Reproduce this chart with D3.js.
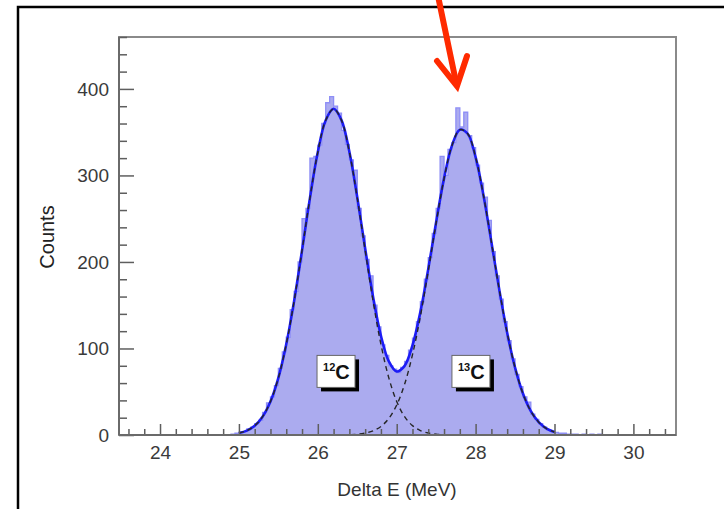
<!DOCTYPE html>
<html>
<head>
<meta charset="utf-8">
<script src="https://cdn.jsdelivr.net/npm/d3@7"></script>
<style>
  html, body { margin: 0; padding: 0; background: #fff; }
  svg { display: block; }
  text { font-family: "Liberation Sans", Arial, Helvetica, sans-serif; }
</style>
</head>
<body>
<svg id="chart" width="724" height="509"></svg>
<script>
// ---------- DATA ----------
const xTickLabels = [24, 25, 26, 27, 28, 29, 30];
const yTickLabels = [0, 100, 200, 300, 400];
const xTitle = "Delta E (MeV)";
const yTitle = "Counts";

// histogram: first bin lower edge and bin width (MeV), counts per bin
const binFirstEdge = 24.85;
const binWidth = 0.05;
const counts = [
  0, 1, 2, 3, 4, 7, 9, 13, 17, 26,
  37, 44, 57, 77, 96, 113, 145, 166, 200, 250,
  262, 320, 322, 335, 360, 384, 391, 380, 372, 352,
  336, 318, 306, 262, 230, 203, 184, 150, 125, 104,
  92, 80, 76, 72, 78, 85, 98, 112, 131, 154,
  180, 205, 233, 262, 322, 300, 330, 338, 378, 356,
  373, 346, 332, 312, 291, 275, 248, 212, 184, 157,
  131, 109, 88, 70, 56, 44, 38, 24, 18, 13,
  9, 6, 4, 3, 2, 2, 1, 1, 1, 0,
  1, 0, 1, 0, 1
];

// fit curves sampled on a common energy grid
const fitX = [
  25.0, 25.1, 25.2, 25.3, 25.4, 25.5, 25.6, 25.7, 25.8, 25.9,
  26.0, 26.1, 26.2, 26.3, 26.4, 26.5, 26.6, 26.7, 26.8, 26.9,
  27.0, 27.1, 27.2, 27.3, 27.4, 27.5, 27.6, 27.7, 27.8, 27.9,
  28.0, 28.1, 28.2, 28.3, 28.4, 28.5, 28.6, 28.7, 28.8, 28.9, 29.0
];
const fitTotal = [
  2.3, 5.1, 10.8, 21.2, 38.7, 66.0, 104.8, 155.0, 213.4, 273.8,
  327.0, 363.8, 377.0, 363.9, 327.4, 274.7, 215.6, 159.8, 114.7, 85.1,
  73.4, 79.9, 103.6, 142.3, 192.0, 246.1, 296.6, 334.5, 352.9, 348.2,
  321.1, 276.8, 223.1, 168.0, 118.3, 77.9, 47.9, 27.5, 14.8, 7.4, 3.5
];
// 12C component (null = not drawn)
const fit12C = [
  2.3, 5.1, 10.8, 21.2, 38.7, 66.0, 104.8, 155.0, 213.4, 273.8,
  327.0, 363.8, 377.0, 363.8, 327.0, 273.8, 213.4, 155.0, 104.8, 66.0,
  38.7, 21.2, 10.8, 5.1, 2.3, 0.9, 0.4, 0.1, null, null,
  null, null, null, null, null, null, null, null, null, null, null
];
// 13C component
const fit13C = [
  null, null, null, null, null, null, null, null, null, null,
  null, null, null, 0.1, 0.4, 0.9, 2.2, 4.8, 9.9, 19.1,
  34.7, 58.7, 92.8, 137.2, 189.7, 245.2, 296.2, 334.4, 352.9, 348.2,
  321.1, 276.8, 223.1, 168.0, 118.3, 77.9, 47.9, 27.5, 14.8, 7.4, 3.5
];

// peak labels: isotope mass number, element, label box anchor (energy, counts)
const peakLabels = [
  { mass: "12", el: "C", e: 25.99, c: 92 },
  { mass: "13", el: "C", e: 27.70, c: 92 }
];

// ---------- CHART ----------
const svg = d3.select("#chart");
const L = 119, R = 676, T = 37, B = 435;

const x = d3.scaleLinear().domain([23.48, 30.54]).range([L, R]);
const y = d3.scaleLinear().domain([0, 460]).range([B, T]);

// histogram
const bins = counts.map((c, i) => ({ x0: binFirstEdge + i * binWidth, c }));
const stepPts = bins.map(b => [b.x0, b.c]);
stepPts.push([binFirstEdge + counts.length * binWidth, counts[counts.length - 1]]);

svg.append("path")
  .datum(stepPts)
  .attr("d", d3.area().x(d => x(d[0])).y0(y(0)).y1(d => y(d[1])).curve(d3.curveStepAfter))
  .attr("fill", "#ababef");
svg.append("path")
  .datum(stepPts)
  .attr("d", d3.line().x(d => x(d[0])).y(d => y(d[1])).curve(d3.curveStepAfter))
  .attr("fill", "none")
  .attr("stroke", "#8f8ff6")
  .attr("stroke-width", 1.3);

// total fit (blue)
const lineGen = vals => d3.line()
  .defined((d, i) => vals[i] !== null)
  .x((d, i) => x(fitX[i]))
  .y((d, i) => y(vals[i]))
  .curve(d3.curveCatmullRom.alpha(0.5));

svg.append("path")
  .datum(fitX)
  .attr("d", lineGen(fitTotal))
  .attr("fill", "none")
  .attr("stroke", "#1c1cf5")
  .attr("stroke-width", 2.6);

// components (black dashed)
[fit12C, fit13C].forEach(vals => {
  svg.append("path")
    .datum(fitX)
    .attr("d", lineGen(vals))
    .attr("fill", "none")
    .attr("stroke", "#262626")
    .attr("stroke-width", 1.4)
    .attr("stroke-dasharray", "5,4");
});

// frame
svg.append("rect")
  .attr("x", L).attr("y", T).attr("width", R - L).attr("height", B - T)
  .attr("fill", "none").attr("stroke", "#8a8a8a").attr("stroke-width", 2);

// y axis
const yMinor = d3.range(0, 461, 20).filter(v => v % 100 !== 0);
const yMajAxis = d3.axisLeft(y).tickValues(yTickLabels).tickSize(-15).tickPadding(10).tickFormat(d3.format("d"));
const yMinAxis = d3.axisLeft(y).tickValues(yMinor).tickSize(-8).tickFormat("");
const gyMin = svg.append("g").attr("transform", `translate(${L},0)`).call(yMinAxis);
const gy = svg.append("g").attr("transform", `translate(${L},0)`).call(yMajAxis);

// x axis
const xMinor = d3.range(23.6, 30.45, 0.2).map(v => +v.toFixed(1)).filter(v => Math.abs(v - Math.round(v)) > 0.01);
const xMajAxis = d3.axisBottom(x).tickValues(xTickLabels).tickSize(-11).tickPadding(11).tickFormat(d3.format("d"));
const xMinAxis = d3.axisBottom(x).tickValues(xMinor).tickSize(-6).tickFormat("");
const gxMin = svg.append("g").attr("transform", `translate(0,${B})`).call(xMinAxis);
const gx = svg.append("g").attr("transform", `translate(0,${B})`).call(xMajAxis);

[gy, gyMin, gx, gxMin].forEach(g => {
  g.select(".domain").remove();
  g.selectAll(".tick line").attr("stroke", "#5e5e5e").attr("stroke-width", 1.5);
  g.selectAll(".tick text").attr("fill", "#3a3a3a").style("font-size", "19px")
    .style("font-family", "'Liberation Sans', Arial, sans-serif");
});
// axis lines
svg.append("line").attr("x1", L).attr("x2", L).attr("y1", T).attr("y2", B)
  .attr("stroke", "#6a6a6a").attr("stroke-width", 2);
svg.append("line").attr("x1", L).attr("x2", R).attr("y1", B).attr("y2", B)
  .attr("stroke", "#6a6a6a").attr("stroke-width", 2);

// axis titles
svg.append("text")
  .attr("x", (L + R) / 2 - 0.5).attr("y", 496)
  .attr("text-anchor", "middle")
  .attr("fill", "#333").style("font-size", "19px")
  .text(xTitle);
svg.append("text")
  .attr("transform", `translate(54,${(T + B) / 2 + 1}) rotate(-90)`)
  .attr("text-anchor", "middle")
  .attr("fill", "#222").style("font-size", "20px")
  .text(yTitle);

// peak label boxes
peakLabels.forEach(p => {
  const bx = x(p.e), by = y(p.c), bw = 38, bh = 32;
  svg.append("rect").attr("x", bx + 4).attr("y", by + 4).attr("width", bw).attr("height", bh).attr("fill", "#000");
  svg.append("rect").attr("x", bx).attr("y", by).attr("width", bw).attr("height", bh)
    .attr("fill", "#fff").attr("stroke", "#666").attr("stroke-width", 1);
  const t = svg.append("text").attr("x", bx + 6).attr("y", by + 24).attr("fill", "#111");
  t.append("tspan").attr("dy", -8).style("font-size", "11px").style("font-weight", "bold").text(p.mass);
  t.append("tspan").attr("dy", 8).style("font-size", "20px").style("font-weight", "bold").text(p.el);
});

// outer border
svg.append("rect").attr("x", 18).attr("y", 7).attr("width", 760).attr("height", 560)
  .attr("fill", "none").attr("stroke", "#000").attr("stroke-width", 2.5);

// red arrow
svg.append("line").attr("x1", 438).attr("y1", -4).attr("x2", 456).attr("y2", 82)
  .attr("stroke", "#ff2a00").attr("stroke-width", 6).attr("stroke-linecap", "round");
svg.append("polyline").attr("points", "437,61 457,86 467,56")
  .attr("fill", "none").attr("stroke", "#ff2a00").attr("stroke-width", 6)
  .attr("stroke-linecap", "round").attr("stroke-linejoin", "miter");
</script>
</body>
</html>
